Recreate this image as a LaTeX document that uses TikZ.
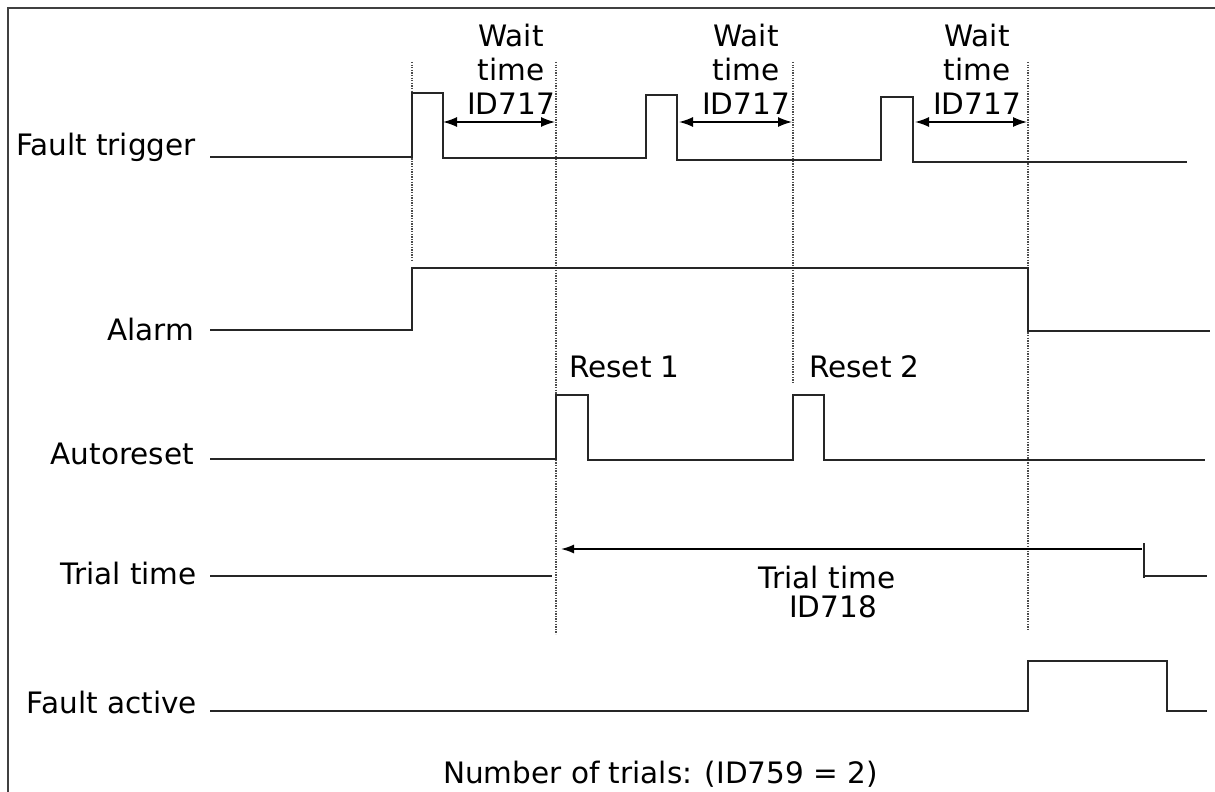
\documentclass[tikz,border=0pt]{standalone}
\usepackage{fontspec}
\setmainfont{DejaVu Sans}
\usetikzlibrary{arrows.meta}
\begin{document}
\begin{tikzpicture}[x=1pt,y=-1pt,
  sig/.style={line width=1.6pt, draw=black!85},
  guide/.style={line width=1.5pt, draw=black!70, dash pattern=on 1.3pt off 1.3pt},
  dim/.style={line width=1.5pt, draw=black, {Latex[length=14pt,width=10pt]}-{Latex[length=14pt,width=10pt]}},
  dimr/.style={line width=1.5pt, draw=black, -{Latex[length=13pt,width=9pt]}},
  frame/.style={line width=2pt, draw=black!75},
  lbl/.style={inner sep=0pt, font=\fontsize{29.5}{34}\selectfont},
  wl/.style={lbl, align=center, anchor=north}]
\useasboundingbox (0,0) rectangle (1215,792);
% frame
\draw[frame] (8,792) -- (8,8) -- (1215,8);
% guide lines
\draw[guide] (412,62) -- (412,262);
\draw[guide] (556,62) -- (556,634);
\draw[guide] (793,62) -- (793,382);
\draw[guide] (1028,62) -- (1028,630);
% signal labels
\node[lbl, anchor=base east] (lft) at (196,155) {Fault trigger};
\node[lbl, anchor=base east] (lal) at (194,340) {Alarm};
\node[lbl, anchor=base east] (lar) at (194,464) {Autoreset};
\node[lbl, anchor=base east] (ltt) at (197,584) {Trial time};
\node[lbl, anchor=base east] (lfa) at (197,713) {Fault active};
% Fault trigger
\draw[sig] (210,157) -- (412,157) -- (412,93) -- (443,93) -- (443,158)
  -- (646,158) -- (646,95) -- (677,95) -- (677,160)
  -- (881,160) -- (881,97) -- (913,97) -- (913,162) -- (1187,162);
% Alarm
\draw[sig] (210,330) -- (412,330) -- (412,268) -- (1028,268) -- (1028,331) -- (1210,331);
% Autoreset
\draw[sig] (210,459) -- (556,459) -- (556,395) -- (588,395) -- (588,460)
  -- (793,460) -- (793,395) -- (824,395) -- (824,460) -- (1205,460);
% Trial time
\draw[sig] (210,576) -- (552,576);
\draw[sig] (1144,543) -- (1144,578);
\draw[sig] (1144,576) -- (1207,576);
% Fault active
\draw[sig] (210,711) -- (1028,711) -- (1028,661) -- (1167,661) -- (1167,711) -- (1207,711);
% dimension arrows
\coordinate (a1s) at (443,122); \coordinate (a1e) at (555,122);
\coordinate (a2s) at (679,122); \coordinate (a2e) at (792,122);
\coordinate (a3s) at (915,122); \coordinate (a3e) at (1027,122);
\coordinate (ts) at (561,549); \coordinate (te) at (1142,549);
\draw[dim] (a1s) -- (a1e);
\draw[dim] (a2s) -- (a2e);
\draw[dim] (a3s) -- (a3e);
\draw[dimr] (te) -- (ts);
% wait labels
\node[wl] (w1) at (511,24) {Wait\\time\\ID717};
\node[wl] (w2) at (746,24) {Wait\\time\\ID717};
\node[wl] (w3) at (977,24) {Wait\\time\\ID717};
% reset labels
\node[lbl, anchor=base west] (r1) at (569,377) {Reset 1};
\node[lbl, anchor=base west] (r2) at (809,377) {Reset 2};
% trial time label
\node[lbl, anchor=base] (tt1) at (827,588) {Trial time};
\node[lbl, anchor=base] (tt2) at (833,617) {ID718};
% footer
\node[lbl, anchor=base west] (num) at (443,783) {Number of trials: (ID759 = 2)};
\end{tikzpicture}
\end{document}
